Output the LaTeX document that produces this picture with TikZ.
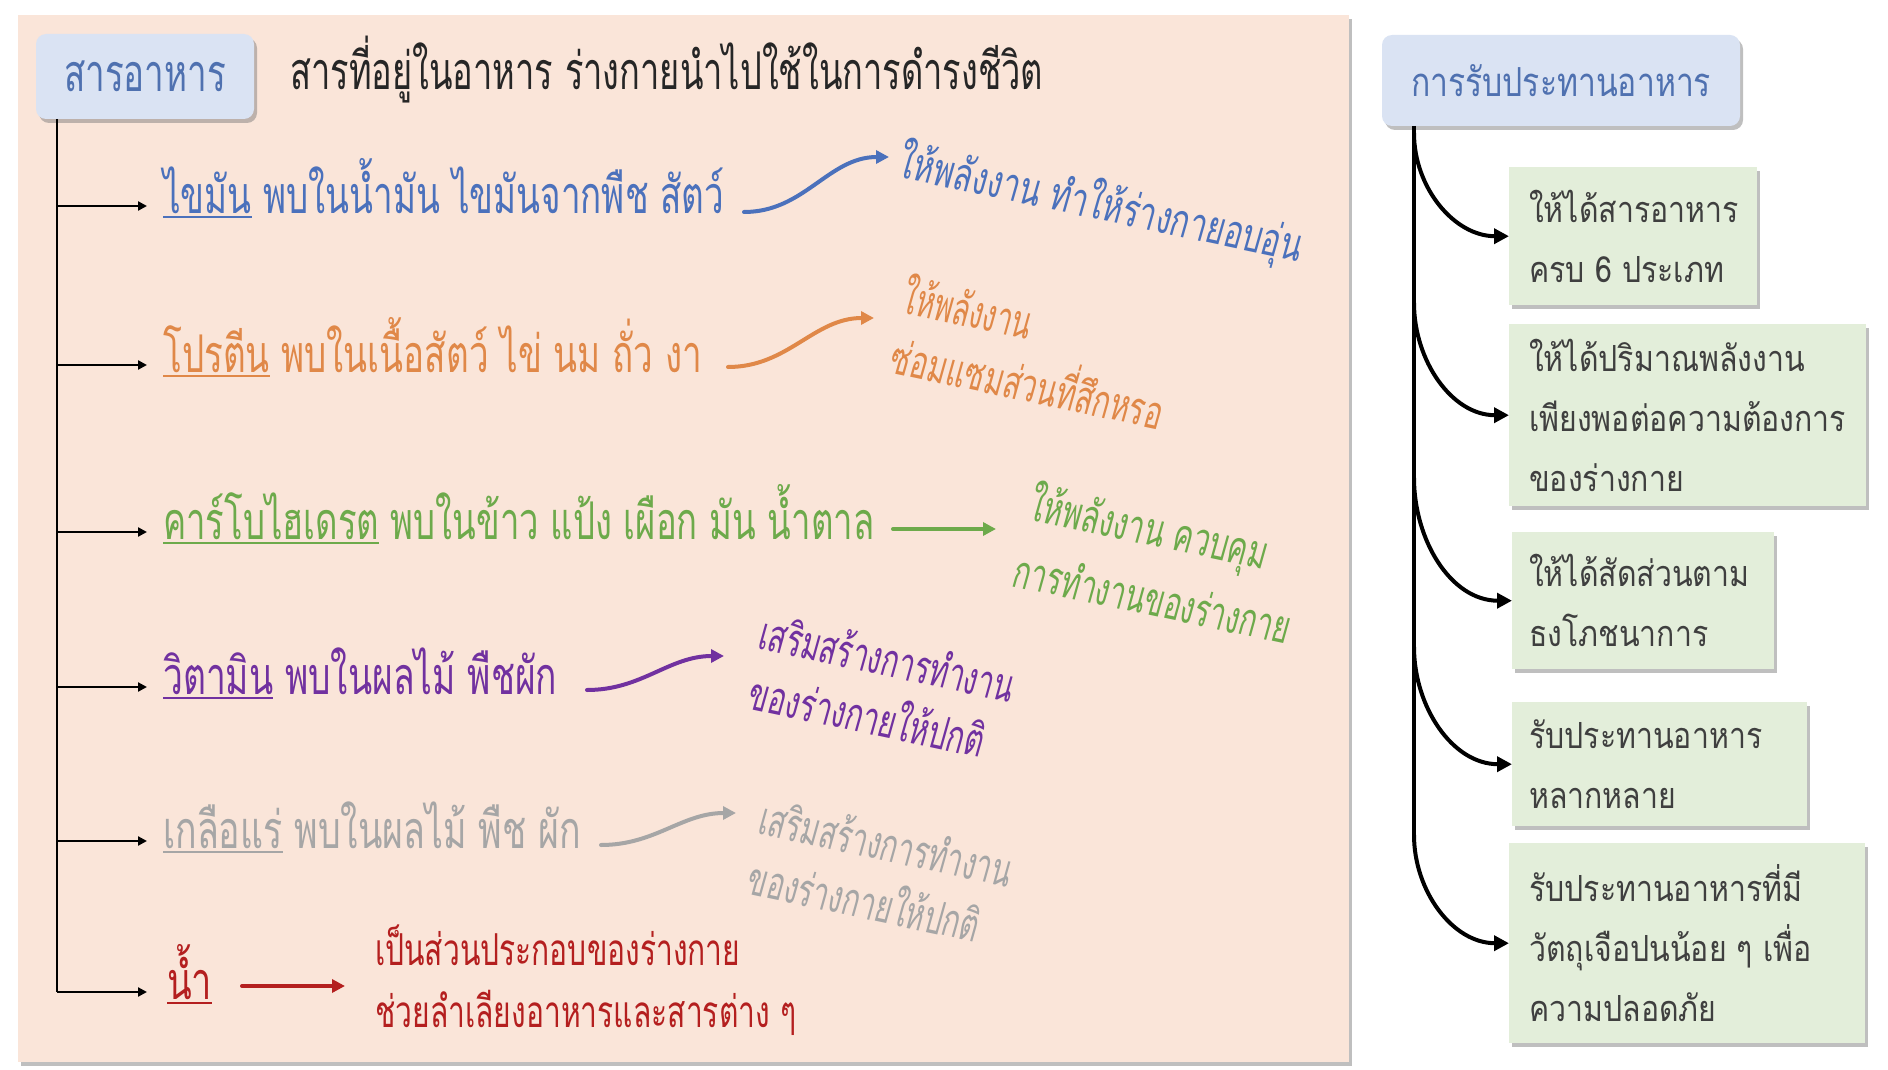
\documentclass[tikz,border=0pt]{standalone}
\usepackage{fontspec}
\usepackage{graphicx}
\usetikzlibrary{arrows.meta,shadows,calc}
\newfontfamily\thc[Script=Thai]{Loma}
\newfontfamily\thn[Script=Thai,FakeStretch=0.84]{Loma}
\newfontfamily\thh[Script=Thai]{Loma}
\newfontfamily\ths[Script=Thai,FakeSlant=0.1]{Loma}
\newcommand\fw[2]{\resizebox{#1pt}{\height}{#2}}
\newcommand\ulw[1]{\setbox0\hbox{#1}\rlap{\raisebox{-5pt}{\rule{\wd0}{2pt}}}\box0\relax}
\definecolor{peach}{HTML}{FAE5D9}
\definecolor{hdrblue}{HTML}{DAE3F3}
\definecolor{hdrtxt}{HTML}{4F71B0}
\definecolor{grnbox}{HTML}{E3EEDA}
\definecolor{boxtxt}{HTML}{3F3F3F}
\definecolor{cfat}{HTML}{4B71BC}
\definecolor{cpro}{HTML}{E08848}
\definecolor{ccarb}{HTML}{6DAA4B}
\definecolor{cvit}{HTML}{7131A0}
\definecolor{cmin}{HTML}{A6A6A6}
\definecolor{cwat}{HTML}{B41F1F}
\begin{document}
\begin{tikzpicture}[x=1pt,y=-1pt,
  shad/.style={drop shadow={shadow xshift=3pt,shadow yshift=-4pt,opacity=0.45,fill=black!55}},
  hdrbox/.style={fill=hdrblue,rounded corners=10pt,inner sep=0pt,shad},
  gbox/.style={fill=grnbox,inner sep=0pt,anchor=north west,shad},
  rowtxt/.style={inner sep=0pt,anchor=base west,font=\thc\fontsize{52}{60}\selectfont},
  rottxt/.style={inner sep=0pt,rotate=-12,font=\ths\fontsize{46}{52}\selectfont},
  btxt/.style={inner sep=0pt,anchor=west,align=left,text=boxtxt,font=\thn\fontsize{36}{60}\selectfont},
  larr/.style={line width=2.5pt,-{Triangle[length=9pt,width=9pt]}},
  carr/.style={line width=4pt,line cap=round,-{Triangle[length=13pt,width=13pt]}},
  rarr/.style={line width=4pt,-{Triangle[length=15pt,width=15pt]}}]
\useasboundingbox (0,0) rectangle (1888,1070);
\fill[white] (0,0) rectangle (1888,1070);
% left panel
\node[fill=peach,inner sep=0pt,minimum width=1331pt,minimum height=1047pt,anchor=north west,shad] (panel) at (18,15) {};
% title box
\node[hdrbox,minimum width=218pt,minimum height=85pt] (sa) at (145,76.5)
  {\color{hdrtxt}\thc\fontsize{52}{60}\selectfont\fw{162}{สารอาหาร}};
\node[rowtxt,text=black!85] (def) at (290,90) {\fw{753}{สารที่อยู่ในอาหาร ร่างกายนำไปใช้ในการดำรงชีวิต}};
% spine
\coordinate (s0) at (57,119);
\foreach \i/\y in {1/206,2/365,3/532,4/687,5/841,6/992}{
  \coordinate (s\i) at (57,\y);
  \coordinate (t\i) at (147,\y);
}
\draw[line width=2.5pt] (s0) -- (s6);
\foreach \i in {1,...,6}{\draw[larr] (s\i) -- (t\i);}
% rows
\node[rowtxt,text=cfat] (r1) at (163,213) {\fw{561}{\ulw{ไขมัน} พบในน้ำมัน ไขมันจากพืช สัตว์}};
\node[rowtxt,text=cpro] (r2) at (163,372) {\fw{539}{\ulw{โปรตีน} พบในเนื้อสัตว์ ไข่ นม ถั่ว งา}};
\node[rowtxt,text=ccarb] (r3) at (163,539) {\fw{711}{\ulw{คาร์โบไฮเดรต} พบในข้าว แป้ง เผือก มัน น้ำตาล}};
\node[rowtxt,text=cvit] (r4) at (163,694) {\fw{394}{\ulw{วิตามิน} พบในผลไม้ พืชผัก}};
\node[rowtxt,text=cmin] (r5) at (163,848) {\fw{418}{\ulw{เกลือแร่} พบในผลไม้ พืช ผัก}};
\node[rowtxt,text=cwat] (r6) at (167,999) {\fw{45}{\ulw{น้ำ}}};
% colored arrows
\coordinate (b1) at (744,212); \coordinate (e1) at (889,157);
\coordinate (b2) at (728,367); \coordinate (e2) at (874,318);
\coordinate (b3) at (893,529); \coordinate (e3) at (996,529);
\coordinate (b4) at (587,690); \coordinate (e4) at (724,656);
\coordinate (b5) at (601,845); \coordinate (e5) at (736,813);
\coordinate (b6) at (242,986); \coordinate (e6) at (345,986);
\draw[carr,cfat] (b1) to[out=0,in=180] (e1);
\draw[carr,cpro] (b2) to[out=0,in=180] (e2);
\draw[carr,ccarb] (b3) -- (e3);
\draw[carr,cvit] (b4) to[out=0,in=180] (e4);
\draw[carr,cmin] (b5) to[out=0,in=180] (e5);
\draw[carr,cwat] (b6) -- (e6);
% rotated results
\node[rottxt,text=cfat] (f1) at (1100,205) {\fw{411}{ให้พลังงาน ทำให้ร่างกายอบอุ่น}};
\node[rottxt,text=cpro] (p1) at (968,306) {\fw{131}{ให้พลังงาน}};
\node[rottxt,text=cpro] (p2) at (1028,378) {\fw{277}{ซ่อมแซมส่วนที่สึกหรอ}};
\node[rottxt,text=ccarb] (c1) at (1148,530) {\fw{242}{ให้พลังงาน ควบคุม}};
\node[rottxt,text=ccarb] (c2) at (1152,597) {\fw{281}{การทำงานของร่างกาย}};
\node[rottxt,text=cvit] (v1) at (887,657) {\fw{259}{เสริมสร้างการทำงาน}};
\node[rottxt,text=cvit] (v2) at (867,713) {\fw{239}{ของร่างกายให้ปกติ}};
\node[rottxt,text=cmin] (m1) at (886,842) {\fw{257}{เสริมสร้างการทำงาน}};
\node[rottxt,text=cmin] (m2) at (864,898) {\fw{235}{ของร่างกายให้ปกติ}};
\node[rowtxt,text=cwat,font=\thc\fontsize{44}{50}\selectfont] (w1) at (375,965) {\fw{365}{เป็นส่วนประกอบของร่างกาย}};
\node[rowtxt,text=cwat,font=\thc\fontsize{44}{50}\selectfont] (w2) at (375,1027) {\fw{421}{ช่วยลำเลียงอาหารและสารต่าง ๆ}};
% right side
\node[hdrbox,minimum width=358pt,minimum height=91pt] (hdr) at (1561,80.5)
  {\color{hdrtxt}\thh\fontsize{40}{48}\selectfont\fw{300}{การรับประทานอาหาร}};
\node[gbox,minimum width=248pt,minimum height=138pt] (g1) at (1509,167) {};
\node[gbox,minimum width=357pt,minimum height=182pt] (g2) at (1509,324) {};
\node[gbox,minimum width=262pt,minimum height=137pt] (g3) at (1512,532) {};
\node[gbox,minimum width=295pt,minimum height=124pt] (g4) at (1512,702) {};
\node[gbox,minimum width=356pt,minimum height=200pt] (g5) at (1509,843) {};
\node[btxt] (x1) at ([xshift=20pt]g1.west) {ให้ได้สารอาหาร\\ครบ 6 ประเภท};
\node[btxt] (x2) at ([xshift=20pt]g2.west) {ให้ได้ปริมาณพลังงาน\\เพียงพอต่อความต้องการ\\ของร่างกาย};
\node[btxt] (x3) at ([xshift=17pt]g3.west) {ให้ได้สัดส่วนตาม\\ธงโภชนาการ};
\node[btxt] (x4) at ([xshift=17pt]g4.west) {รับประทานอาหาร\\หลากหลาย};
\node[btxt] (x5) at ([xshift=20pt]g5.west) {รับประทานอาหารที่มี\\วัตถุเจือปนน้อย ๆ เพื่อ\\ความปลอดภัย};
\coordinate (q0) at (1414,126);
\foreach \i/\y in {1/133,2/303,3/478,4/647,5/835}{\coordinate (q\i) at (1414,\y);}
\draw[line width=4pt] (q0) -- (q5);
\foreach \i in {1,...,5}{\draw[rarr] (q\i) to[out=-90,in=180] (g\i.west);}
\end{tikzpicture}
\end{document}
